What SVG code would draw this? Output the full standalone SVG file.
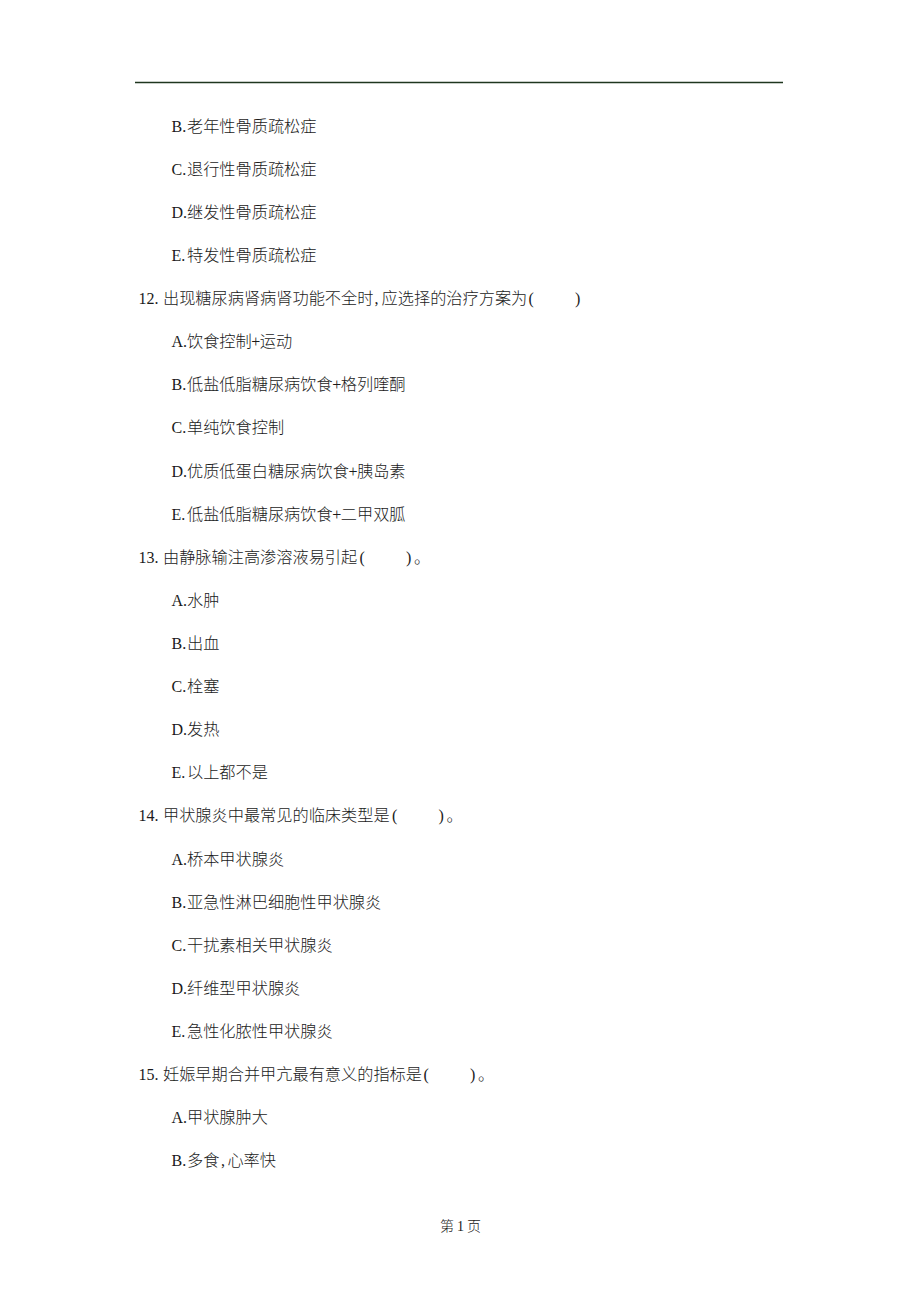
<svg xmlns="http://www.w3.org/2000/svg" width="920" height="1302" viewBox="0 0 920 1302">
<style>
text{fill:#1a1a1a;font-size:16px;font-family:"Liberation Serif","Noto Sans CJK SC",serif}
.c{font-family:"Noto Sans CJK SC","Liberation Serif",sans-serif;font-size:16.2px;font-weight:300}
.f{font-size:14px}
</style>
<rect width="920" height="1302" fill="#fff"/>
<line x1="135" y1="82.5" x2="783" y2="82.5" stroke="#1f361f" stroke-width="1.6"/>
<g id="body">
<text y="131.5"><tspan x="171.5">B.</tspan><tspan class="c" x="187">老年性骨质疏松症</tspan></text>
<text y="174.6"><tspan x="171.5">C.</tspan><tspan class="c" x="187">退行性骨质疏松症</tspan></text>
<text y="217.7"><tspan x="171.5">D.</tspan><tspan class="c" x="187">继发性骨质疏松症</tspan></text>
<text y="260.9"><tspan x="171.5">E.</tspan><tspan class="c" x="187">特发性骨质疏松症</tspan></text>
<text y="304.0"><tspan x="138.5">12.</tspan><tspan class="c" x="163">出现糖尿病肾病肾功能不全时</tspan><tspan x="374.5">,</tspan><tspan class="c" x="381.6">应选择的治疗方案为</tspan><tspan x="528.5">(</tspan><tspan x="575">)</tspan></text>
<text y="347.1"><tspan x="171.5">A.</tspan><tspan class="c" x="187">饮食控制</tspan><tspan x="251.3">+</tspan><tspan class="c" x="259.8">运动</tspan></text>
<text y="390.2"><tspan x="171.5">B.</tspan><tspan class="c" x="187">低盐低脂糖尿病饮食</tspan><tspan x="332.3">+</tspan><tspan class="c" x="340.8">格列喹酮</tspan></text>
<text y="433.3"><tspan x="171.5">C.</tspan><tspan class="c" x="187">单纯饮食控制</tspan></text>
<text y="476.5"><tspan x="171.5">D.</tspan><tspan class="c" x="187">优质低蛋白糖尿病饮食</tspan><tspan x="348.5">+</tspan><tspan class="c" x="357">胰岛素</tspan></text>
<text y="519.6"><tspan x="171.5">E.</tspan><tspan class="c" x="187">低盐低脂糖尿病饮食</tspan><tspan x="332.3">+</tspan><tspan class="c" x="340.8">二甲双胍</tspan></text>
<text y="562.7"><tspan x="138.5">13.</tspan><tspan class="c" x="163">由静脉输注高渗溶液易引起</tspan><tspan x="359.5">(</tspan><tspan x="406">)</tspan><tspan class="c" x="414">。</tspan></text>
<text y="605.8"><tspan x="171.5">A.</tspan><tspan class="c" x="187">水肿</tspan></text>
<text y="648.9"><tspan x="171.5">B.</tspan><tspan class="c" x="187">出血</tspan></text>
<text y="692.1"><tspan x="171.5">C.</tspan><tspan class="c" x="187">栓塞</tspan></text>
<text y="735.2"><tspan x="171.5">D.</tspan><tspan class="c" x="187">发热</tspan></text>
<text y="778.3"><tspan x="171.5">E.</tspan><tspan class="c" x="187">以上都不是</tspan></text>
<text y="821.4"><tspan x="138.5">14.</tspan><tspan class="c" x="163">甲状腺炎中最常见的临床类型是</tspan><tspan x="392">(</tspan><tspan x="438.5">)</tspan><tspan class="c" x="446.5">。</tspan></text>
<text y="864.5"><tspan x="171.5">A.</tspan><tspan class="c" x="187">桥本甲状腺炎</tspan></text>
<text y="907.7"><tspan x="171.5">B.</tspan><tspan class="c" x="187">亚急性淋巴细胞性甲状腺炎</tspan></text>
<text y="950.8"><tspan x="171.5">C.</tspan><tspan class="c" x="187">干扰素相关甲状腺炎</tspan></text>
<text y="993.9"><tspan x="171.5">D.</tspan><tspan class="c" x="187">纤维型甲状腺炎</tspan></text>
<text y="1037.0"><tspan x="171.5">E.</tspan><tspan class="c" x="187">急性化脓性甲状腺炎</tspan></text>
<text y="1080.1"><tspan x="138.5">15.</tspan><tspan class="c" x="163">妊娠早期合并甲亢最有意义的指标是</tspan><tspan x="423.5">(</tspan><tspan x="470">)</tspan><tspan class="c" x="478">。</tspan></text>
<text y="1123.3"><tspan x="171.5">A.</tspan><tspan class="c" x="187">甲状腺肿大</tspan></text>
<text y="1166.4"><tspan x="171.5">B.</tspan><tspan class="c" x="187">多食</tspan><tspan x="221">,</tspan><tspan class="c" x="227.4">心率快</tspan></text>
</g>
<g id="footer">
<text class="f" y="1231"><tspan class="c" x="440" style="font-size:14px">第</tspan><tspan x="457">1</tspan><tspan class="c" x="467" style="font-size:14px">页</tspan></text>
</g>
</svg>
